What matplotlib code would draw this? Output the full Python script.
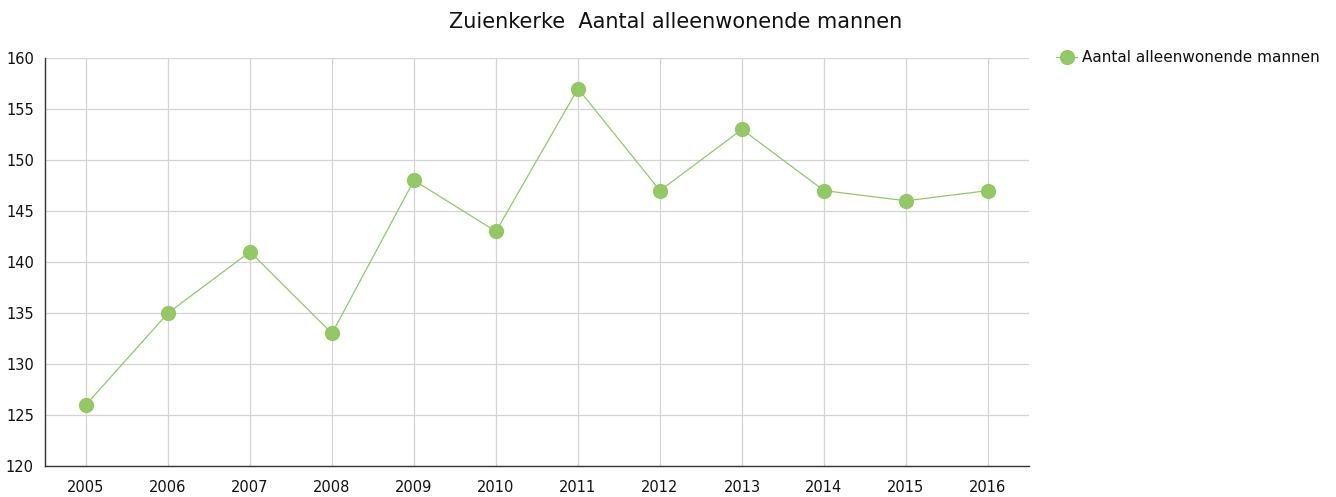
import matplotlib
matplotlib.use("Agg")
import matplotlib.pyplot as plt

years = [2005, 2006, 2007, 2008, 2009, 2010, 2011, 2012, 2013, 2014, 2015, 2016]
values = [126, 135, 141, 133, 148, 143, 157, 147, 153, 147, 146, 147]
series_name = "Aantal alleenwonende mannen"
title = "Zuienkerke  Aantal alleenwonende mannen"
yticks = [120, 125, 130, 135, 140, 145, 150, 155, 160]

plt.rcParams['font.family'] = ['DejaVu Sans']
green = "#92c965"

fig = plt.figure(figsize=(13.36, 4.97), dpi=100)
ax = fig.add_axes([45/1336, 1-466/497, (1029-45)/1336, (466-58)/497])

ax.plot(years, values, color=green, linewidth=0.9, marker='o', markersize=11,
        markeredgewidth=0, label=series_name, zorder=3, clip_on=False)

ax.set_xlim(2004.5, 2016.5)
ax.set_ylim(120, 160)
ax.set_xticks(years)
ax.set_xticklabels([str(y) for y in years])
ax.set_yticks(yticks)
ax.grid(True, color="#d4d4d4", linewidth=0.9)
ax.set_axisbelow(True)
for s in ['top', 'right']:
    ax.spines[s].set_visible(False)
for s in ['left', 'bottom']:
    ax.spines[s].set_color("#333333")
    ax.spines[s].set_linewidth(1.0)
ax.tick_params(axis='x', length=0, labelsize=10.5, colors="#111111", pad=10)
ax.tick_params(axis='y', length=0, labelsize=10.5, colors="#111111", pad=8)

fig.text(676/1336, 1-22/497, title, ha='center', va='center', fontsize=15, color="#111111")

leg = fig.legend(loc='upper left', bbox_to_anchor=(1056/1336, 1-50/497), frameon=False,
                 fontsize=11, handlelength=1.4, handletextpad=0.3, borderaxespad=0, borderpad=0)
for t in leg.get_texts():
    t.set_color("#111111")

fig.savefig("out.png", dpi=100)
